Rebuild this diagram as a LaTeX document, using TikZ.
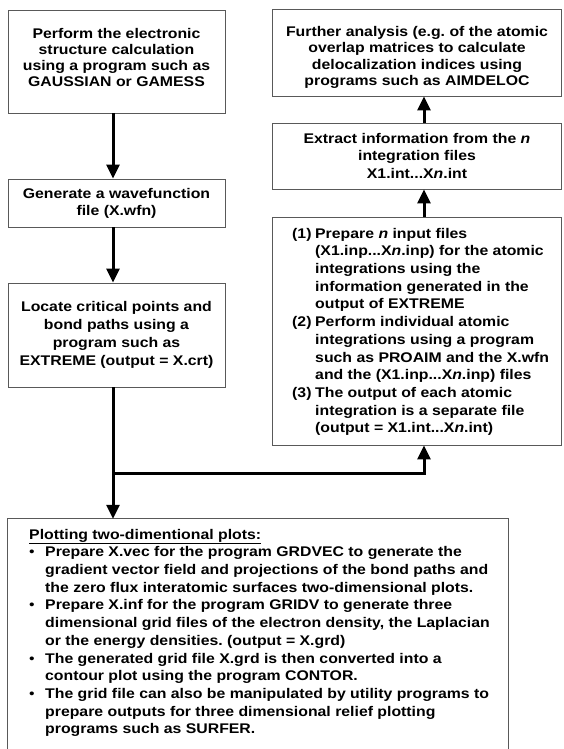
\documentclass[tikz,border=0pt]{standalone}
\usepackage{fontspec}
\setmainfont{Liberation Sans}[FakeStretch=1.13]
\usetikzlibrary{arrows.meta}
\frenchspacing
\begin{document}
\begin{tikzpicture}[x=1pt,y=-1pt,
  box/.style={draw=black!65, line width=0.9pt, inner sep=0pt, rectangle},
  ctext/.style={align=center, inner sep=0pt, font=\fontsize{14}{17}\selectfont\bfseries},
  ltext/.style={anchor=north west, inner sep=0pt, font=\fontsize{14}{17.7}\selectfont\bfseries},
  flow/.style={line width=3pt, -{Triangle[length=14pt,width=13pt]}},
]
\useasboundingbox (0,0) rectangle (563,749);
% column guides
\coordinate (lx) at (113,0);
\coordinate (rx) at (424,0);
% left column boxes
\node[box, minimum width=217pt, minimum height=103pt] (b1) at (116.5,61.5) {};
\node[ctext, font=\fontsize{14}{16.2}\selectfont\bfseries] (t1) at (116.5,57.5) {Perform the electronic\\structure calculation\\using a program such as\\GAUSSIAN or GAMESS};
\node[box, minimum width=217pt, minimum height=48pt] (b2) at (116.5,203) {};
\node[ctext] (t2) at (116.5,203.5) {Generate a wavefunction\\file (X.wfn)};
\node[box, minimum width=217pt, minimum height=104pt] (b3) at (116.5,335) {};
\node[ctext, font=\fontsize{14}{18}\selectfont\bfseries] (t3) at (116.5,334.5) {Locate critical points and\\bond paths using a\\program such as\\EXTREME (output = X.crt)};
% right column boxes
\node[box, minimum width=289pt, minimum height=87pt] (bA) at (417,52.5) {};
\node[ctext, font=\fontsize{14}{16.3}\selectfont\bfseries] (tA) at (417,57.5) {Further analysis (e.g. of the atomic\\overlap matrices to calculate\\delocalization indices using\\programs such as AIMDELOC};
\node[box, minimum width=289pt, minimum height=66pt] (bB) at (417,156) {};
\node[ctext, font=\fontsize{14}{17.5}\selectfont\bfseries] (tB) at (417,155.5) {Extract information from the \textit{n}\\integration files\\X1.int...X\textit{n}.int};
\node[box, minimum width=289pt, minimum height=228pt] (bC) at (417,331) {};
\node[ltext] (tC) at (292,225.6) {\begin{tabular}{@{}l@{}l@{}}
\makebox[23pt][l]{(1)} & Prepare \textit{n} input files\\
 & (X1.inp...X\textit{n}.inp) for the atomic\\
 & integrations using the\\
 & information generated in the\\
 & output of EXTREME\\
\makebox[23pt][l]{(2)} & Perform individual atomic\\
 & integrations using a program\\
 & such as PROAIM and the X.wfn\\
 & and the (X1.inp...X\textit{n}.inp) files\\
\makebox[23pt][l]{(3)} & The output of each atomic\\
 & integration is a separate file\\
 & (output = X1.int...X\textit{n}.int)
\end{tabular}};
% bottom box (open at the bottom edge)
\node[inner sep=0pt, minimum width=500pt, minimum height=231pt] (bot) at (258,634.5) {};
\draw[draw=black!65, line width=0.9pt] (bot.south west) |- (bot.north east) -- (bot.south east);
\node[ltext] (tbot) at (29,526.6) {\begin{tabular}{@{}l@{}l@{}}
\multicolumn{2}{@{}l@{}}{\underline{Plotting two-dimentional plots:}}\\
\makebox[16pt][l]{\textmd{•}} & Prepare X.vec for the program GRDVEC to generate the\\
 & gradient vector field and projections of the bond paths and\\
 & the zero flux interatomic surfaces two-dimensional plots.\\
\makebox[16pt][l]{\textmd{•}} & Prepare X.inf for the program GRIDV to generate three\\
 & dimensional grid files of the electron density, the Laplacian\\
 & or the energy densities. (output = X.grd)\\
\makebox[16pt][l]{\textmd{•}} & The generated grid file X.grd is then converted into a\\
 & contour plot using the program CONTOR.\\
\makebox[16pt][l]{\textmd{•}} & The grid file can also be manipulated by utility programs to\\
 & prepare outputs for three dimensional relief plotting\\
 & programs such as SURFER.
\end{tabular}};
% connectors
\coordinate (j) at (113,473);
\draw[flow] (b1.south -| lx) -- (b2.north -| lx);
\draw[flow] (b2.south -| lx) -- (b3.north -| lx);
\draw[flow] (b3.south -| lx) -- (bot.north -| lx);
\draw[flow] (j) -| (bC.south -| rx);
\draw[flow] (bC.north -| rx) -- (bB.south -| rx);
\draw[flow] (bB.north -| rx) -- (bA.south -| rx);
\end{tikzpicture}
\end{document}
